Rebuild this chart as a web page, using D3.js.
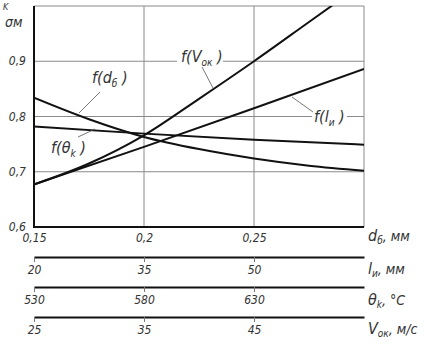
<!DOCTYPE html>
<html><head><meta charset="utf-8">
<script src="https://cdn.jsdelivr.net/npm/d3@7"></script>
<style>
body{margin:0;background:#fff}
svg text{font-family:"Liberation Sans Narrow","DejaVu Sans Condensed",sans-serif;font-style:italic;fill:#333}
</style></head><body><svg></svg>
<script>
// values
const dVals = [0.15, 0.175, 0.2, 0.225, 0.25, 0.275, 0.3]
const fD = [0.834, 0.795, 0.763, 0.741, 0.724, 0.711, 0.702]
const lVals = [20, 35, 50, 65]
const fL = [0.677, 0.745, 0.815, 0.886]
const tVals = [530, 580, 630, 680]
const fT = [0.782, 0.769, 0.758, 0.749]
const vVals = [25, 30, 35, 40, 45, 50, 55]
const fV = [0.677, 0.715, 0.766, 0.832, 0.900, 0.971, 1.042]

const yTicks = [0.6, 0.7, 0.8, 0.9, 1.0]
const dTicks = [0.15, 0.2, 0.25, 0.3]
const lTicks = [20, 35, 50]
const tTicks = [530, 580, 630]
const vTicks = [25, 35, 45]

const svg = d3.select("svg")
    .attr("width", 433)
    .attr("height", 347)

const mLeft = 34, mRight = 364, mTop = 6, mBottom = 227

const y = d3.scaleLinear().domain([0.6, 1.0]).range([mBottom, mTop])
const xD = d3.scaleLinear().domain([0.15, 0.3]).range([mLeft, mRight])
const xL = d3.scaleLinear().domain([20, 65]).range([mLeft, mRight])
const xT = d3.scaleLinear().domain([530, 680]).range([mLeft, mRight])
const xV = d3.scaleLinear().domain([25, 55]).range([mLeft, mRight])

const comma = v => String(v).replace(".", ",")

// grid
svg.append("g").selectAll("line.h")
    .data(yTicks)
    .enter().append("line")
    .attr("x1", mLeft).attr("x2", mRight)
    .attr("y1", d => y(d)).attr("y2", d => y(d))
    .attr("stroke", "#8a8a8a").attr("stroke-width", 1)

svg.append("g").selectAll("line.v")
    .data(dTicks)
    .enter().append("line")
    .attr("x1", d => xD(d)).attr("x2", d => xD(d))
    .attr("y1", mTop).attr("y2", mBottom)
    .attr("stroke", "#8a8a8a").attr("stroke-width", 1)

// y labels
svg.append("g").selectAll("text")
    .data(yTicks.slice(0, 4))
    .enter().append("text")
    .attr("x", 26).attr("y", d => y(d))
    .attr("dy", "0.35em")
    .attr("text-anchor", "end")
    .attr("font-size", 12)
    .text(d => comma(d))

svg.append("text").attr("x", 3).attr("y", 10).attr("font-size", 9).text("K")
svg.append("text").attr("x", 5).attr("y", 27).attr("font-size", 14).text("σм")

// white boxes where labels cut the grid
const gaps = [[177, 52, 46, 14], [312, 109, 35, 14]]
svg.append("g").selectAll("rect")
    .data(gaps)
    .enter().append("rect")
    .attr("x", d => d[0]).attr("y", d => d[1])
    .attr("width", d => d[2]).attr("height", d => d[3])
    .attr("fill", "#fff")

// curves
const clip = svg.append("clipPath").attr("id", "plot")
clip.append("rect").attr("x", mLeft).attr("y", mTop).attr("width", mRight - mLeft).attr("height", mBottom - mTop)

const series = [
    {xs: dVals, ys: fD, sx: xD},
    {xs: lVals, ys: fL, sx: xL},
    {xs: tVals, ys: fT, sx: xT},
    {xs: vVals, ys: fV, sx: xV}
]

const curves = svg.append("g").attr("clip-path", "url(#plot)")
series.forEach(s => {
    const line = d3.line()
        .x((d, i) => s.sx(s.xs[i]))
        .y(d => y(d))
        .curve(d3.curveMonotoneX)
    curves.append("path")
        .attr("d", line(s.ys))
        .attr("fill", "none")
        .attr("stroke", "#111")
        .attr("stroke-width", 2)
})

// frame: left and bottom heavy
svg.append("line").attr("x1", mLeft).attr("x2", mLeft).attr("y1", mTop).attr("y2", mBottom)
    .attr("stroke", "#111").attr("stroke-width", 2)
svg.append("line").attr("x1", mLeft - 1).attr("x2", mRight).attr("y1", mBottom).attr("y2", mBottom)
    .attr("stroke", "#111").attr("stroke-width", 2)

// leaders
const leaders = [[100, 92, 79, 113], [95, 129, 78, 137], [202, 67, 213, 88], [292, 97, 313, 112]]
svg.append("g").selectAll("line")
    .data(leaders)
    .enter().append("line")
    .attr("x1", d => d[0]).attr("y1", d => d[1])
    .attr("x2", d => d[2]).attr("y2", d => d[3])
    .attr("stroke", "#555").attr("stroke-width", 0.8)

// curve labels
const curveLabel = function(x, yy, main, sub) {
    const t = svg.append("text").attr("x", x).attr("y", yy).attr("font-size", 16)
    t.append("tspan").text(main)
    t.append("tspan").attr("font-size", 10).attr("dy", 4).text(sub)
    t.append("tspan").attr("dy", -4).text(" )")
}
curveLabel(92, 83, "f(d", "б")
curveLabel(51, 153, "f(θ", "k")
curveLabel(181, 62, "f(V", "ок")
curveLabel(314, 122, "f(l", "и")

// d axis labels under the plot
const axD = svg.append("g")
    .attr("transform", `translate(0,${mBottom})`)
    .call(d3.axisBottom(xD).tickValues(dTicks.slice(0, 3)).tickSize(0).tickPadding(6).tickFormat(comma))
axD.select(".domain").remove()

// extra scales
const extra = [
    {sc: xL, ticks: lTicks, yy: 257},
    {sc: xT, ticks: tTicks, yy: 287},
    {sc: xV, ticks: vTicks, yy: 317}
]
extra.forEach(e => {
    const g = svg.append("g")
        .attr("transform", `translate(0,${e.yy})`)
        .call(d3.axisBottom(e.sc).tickValues(e.ticks).tickSize(5).tickSizeOuter(0).tickPadding(3))
    g.select(".domain").attr("stroke", "#111").attr("stroke-width", 2)
})
svg.selectAll(".tick line").attr("stroke", "#777")
svg.selectAll(".tick text").attr("font-size", 12).attr("fill", "#333")

// unit names
const unitLabel = function(yy, main, sub, rest) {
    const t = svg.append("text").attr("x", 368).attr("y", yy).attr("font-size", 16)
    t.append("tspan").text(main)
    t.append("tspan").attr("font-size", 10).attr("dy", 3).text(sub)
    t.append("tspan").attr("dy", -3).attr("font-size", 14).text(rest)
}
unitLabel(241, "d", "б", ", мм")
unitLabel(274, "l", "и", ", мм")
unitLabel(305, "θ", "k", ", °C")
unitLabel(334, "V", "ок", ", м/с")
</script>
</body></html>
